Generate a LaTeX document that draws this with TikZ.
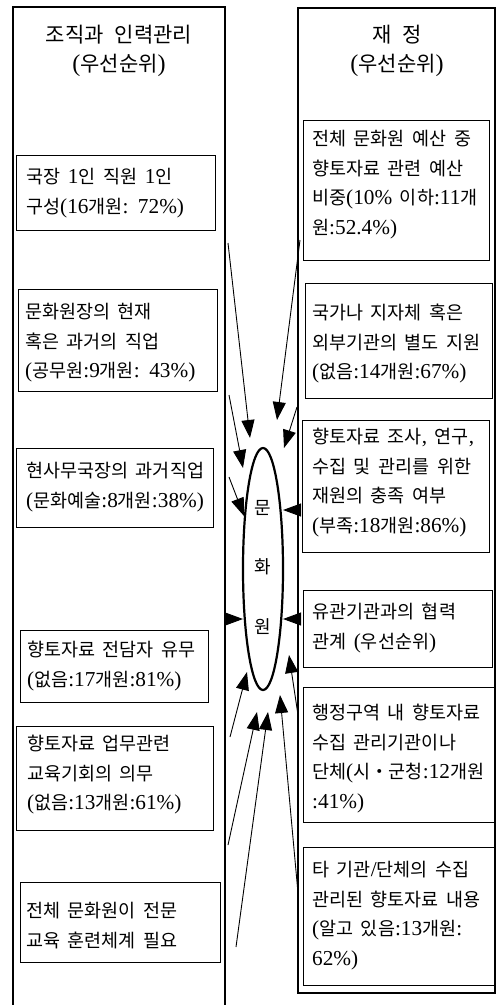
\documentclass[tikz,border=0pt]{standalone}
\usepackage{fontspec}
\setmainfont[Scale=1.15]{Liberation Serif}
\newfontfamily\krfont{Noto Sans CJK KR}
\newfontfamily\latfont[Scale=1.15]{Liberation Serif}
\makeatletter
\newXeTeXintercharclass\krclass
\newcount\hgcnt
\hgcnt="AC00
\loop
  \XeTeXcharclass\hgcnt=\krclass
  \advance\hgcnt by 1
\ifnum\hgcnt<"D7A4 \repeat
\XeTeXcharclass"30FB=\krclass
\XeTeXinterchartoks 0 \krclass = {\krfont}
\XeTeXinterchartoks 4095 \krclass = {\krfont}
\XeTeXinterchartoks \krclass 0 = {\latfont}
\XeTeXinterchartoks 4095 0 = {\latfont}
\makeatother
\XeTeXinterchartokenstate=1
\usetikzlibrary{arrows.meta,shapes.geometric}
\newcommand{\itemfont}{\fontsize{18.5}{29.5}\selectfont\spaceskip=0.36em\relax}
\newcommand{\titlefont}{\fontsize{21}{30}\selectfont\spaceskip=0.45em\relax}
\tikzset{
  panelline/.style={line width=2.4pt},
  itembox/.style={draw, line width=0.8pt, anchor=north west, inner sep=0pt},
  itemtxt/.style={anchor=north west, inner sep=0pt, align=left, font=\itemfont},
  titletxt/.style={inner sep=0pt, align=center, font=\titlefont},
  centertxt/.style={inner sep=0pt, font=\fontsize{18}{20}\selectfont},
  arr/.style={-{Triangle[length=18pt,width=13pt]}, line width=0.9pt},
}
\begin{document}
\begin{tikzpicture}[x=1pt,y=-1pt]
\useasboundingbox (0,0) rectangle (497,1005);
% panels
\draw[panelline] (13,1005) -- (13,7) -- (225,7) -- (225,1005);
\draw[panelline] (298,8) rectangle (495,993);
% titles
\node[titletxt] (tl1) at (119,35) {조직과 인력관리};
\node[titletxt] (tl2) at (119,65) {(우선순위)};
\node[titletxt] (tr1) at (397,35) {재 정};
\node[titletxt] (tr2) at (397,65) {(우선순위)};
% left boxes
\node[itembox, minimum width=199pt, minimum height=75pt] (L1) at (16,155) {};
\node[itemtxt] (L1t) at (26,168) {국장 1인 직원 1인\\구성(16개원: 72\%)};
\node[itembox, minimum width=199pt, minimum height=102pt] (L2) at (18,289) {};
\node[itemtxt] (L2t) at (25,303) {문화원장의 현재\\혹은 과거의 직업\\(공무원:9개원: 43\%)};
\node[itembox, minimum width=197pt, minimum height=79pt] (L3) at (16,448) {};
\node[itemtxt] (L3t) at (26,462) {현사무국장의 과거직업\\(문화예술:8개원:38\%)};
\node[itembox, minimum width=188pt, minimum height=72pt] (L4) at (20,630) {};
\node[itemtxt] (L4t) at (27,641) {향토자료 전담자 유무\\(없음:17개원:81\%)};
\node[itembox, minimum width=197pt, minimum height=104pt] (L5) at (16,726) {};
\node[itemtxt] (L5t) at (27,735) {향토자료 업무관련\\교육기회의 의무\\(없음:13개원:61\%)};
\node[itembox, minimum width=200pt, minimum height=80pt] (L6) at (20,882) {};
\node[itemtxt] (L6t) at (26,902) {전체 문화원이 전문\\교육 훈련체계 필요};
% right boxes
\node[itembox, minimum width=186pt, minimum height=140pt] (R1) at (303,120) {};
\node[itemtxt] (R1t) at (312,130) {전체 문화원 예산 중\\향토자료 관련 예산\\비중(10\% 이하:11개\\원:52.4\%)};
\node[itembox, minimum width=187pt, minimum height=115pt] (R2) at (305,283) {};
\node[itemtxt] (R2t) at (312,304) {국가나 지자체 혹은\\외부기관의 별도 지원\\(없음:14개원:67\%)};
\node[itembox, minimum width=187pt, minimum height=132pt] (R3) at (302,420) {};
\node[itemtxt] (R3t) at (312,428) {향토자료 조사, 연구,\\수집 및 관리를 위한\\재원의 충족 여부\\(부족:18개원:86\%)};
\node[itembox, minimum width=189pt, minimum height=77pt] (R4) at (303,590) {};
\node[itemtxt] (R4t) at (312,603) {유관기관과의 협력\\관계 (우선순위)};
\node[itembox, minimum width=192pt, minimum height=135pt] (R5) at (303,687) {};
\node[itemtxt] (R5t) at (312,704) {행정구역 내 향토자료\\수집 관리기관이나\\단체(시・군청:12개원\\:41\%)};
\node[itembox, minimum width=192pt, minimum height=138pt] (R6) at (303,847) {};
\node[itemtxt] (R6t) at (312,861) {타 기관/단체의 수집\\관리된 향토자료 내용\\(알고 있음:13개원:\\62\%)};
% centre ellipse
\node[ellipse, draw, line width=2.2pt, minimum width=40pt, minimum height=242pt, inner sep=0pt] (E) at (263,569) {};
\node[centertxt] (E1) at (263,508) {문};
\node[centertxt] (E2) at (263,567) {화};
\node[centertxt] (E3) at (263,627) {원};
% arrow ends
\coordinate (a1) at (228,243); \coordinate (b1) at (250,438);
\coordinate (a2) at (229,395); \coordinate (b2) at (243,468);
\coordinate (a3) at (300,240); \coordinate (b3) at (277,420);
\coordinate (a4) at (297,407); \coordinate (b4) at (284,448);
\coordinate (a5) at (229,477); \coordinate (b5) at (244,516);
\coordinate (a6) at (297,510); \coordinate (b6) at (283,510);
\coordinate (a7) at (228,619); \coordinate (b7) at (243,619);
\coordinate (a8) at (297,619); \coordinate (b8) at (283,619);
\coordinate (a9) at (230,737); \coordinate (b9) at (247,672);
\coordinate (a10) at (228,845); \coordinate (b10) at (257,712);
\coordinate (a11) at (236,947); \coordinate (b11) at (268,712);
\coordinate (a12) at (298,893); \coordinate (b12) at (280,695);
\coordinate (a13) at (298,715); \coordinate (b13) at (289,655);
\foreach \i in {1,...,13} { \draw[arr] (a\i) -- (b\i); }
\end{tikzpicture}
\end{document}
